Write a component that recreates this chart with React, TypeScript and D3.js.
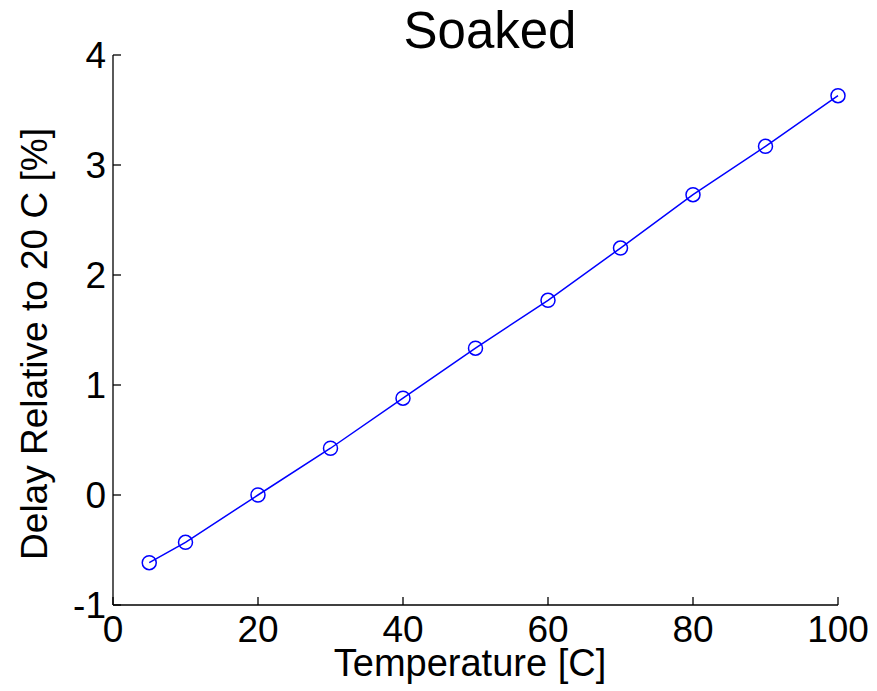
import React from "react";
import * as d3 from "d3";

const temperatures = [5, 10, 20, 30, 40, 50, 60, 70, 80, 90, 100];
const delays = [-0.615, -0.43, 0.0, 0.425, 0.88, 1.335, 1.77, 2.245, 2.73, 3.17, 3.63];
const xTicks = [0, 20, 40, 60, 80, 100];
const yTicks = [-1, 0, 1, 2, 3, 4];
const title = "Soaked";
const xLabel = "Temperature [C]";
const yLabel = "Delay Relative to 20 C [%]";

const W = 877, H = 691;
const left = 113, right = 838, top = 55, bottom = 605;
const font = "'Liberation Sans', Arial, Helvetica, sans-serif";

export default function App() {
  const x = d3.scaleLinear().domain([0, 100]).range([left, right]);
  const y = d3.scaleLinear().domain([-1, 4]).range([bottom, top]);
  const line = d3.line<number>().x((_, i) => x(temperatures[i])).y((d) => y(d));
  const tickLen = 8;
  return (
    <svg width={W} height={H} style={{ position: "absolute", left: 0, top: 0, background: "#fff" }} fontFamily={font}>
      <rect x={0} y={0} width={W} height={H} fill="#fff" />
      <line x1={left} x2={left} y1={top} y2={bottom} stroke="#000" strokeWidth={1.3} />
      <line x1={left} x2={right} y1={bottom} y2={bottom} stroke="#000" strokeWidth={1.3} />
      {xTicks.map((t) => (
        <g key={"x" + t}>
          <line x1={x(t)} x2={x(t)} y1={bottom} y2={bottom - tickLen} stroke="#000" strokeWidth={1.3} />
          <text x={x(t)} y={642} textAnchor="middle" fontSize={37}>{t}</text>
        </g>
      ))}
      {yTicks.map((t) => (
        <g key={"y" + t}>
          <line x1={left} x2={left + tickLen} y1={y(t)} y2={y(t)} stroke="#000" strokeWidth={1.3} />
          <text x={106} y={y(t) + 13} textAnchor="end" fontSize={37}>{t}</text>
        </g>
      ))}
      <path d={line(delays) || ""} fill="none" stroke="#0000ff" strokeWidth={1.5} />
      {delays.map((d, i) => (
        <circle key={i} cx={x(temperatures[i])} cy={y(d)} r={7} fill="none" stroke="#0000ff" strokeWidth={1.5} />
      ))}
      <text x={490} y={48} textAnchor="middle" fontSize={51}>{title}</text>
      <text x={470} y={676} textAnchor="middle" fontSize={38}>{xLabel}</text>
      <text transform={`translate(47,344) rotate(-90)`} textAnchor="middle" fontSize={37}>{yLabel}</text>
    </svg>
  );
}
